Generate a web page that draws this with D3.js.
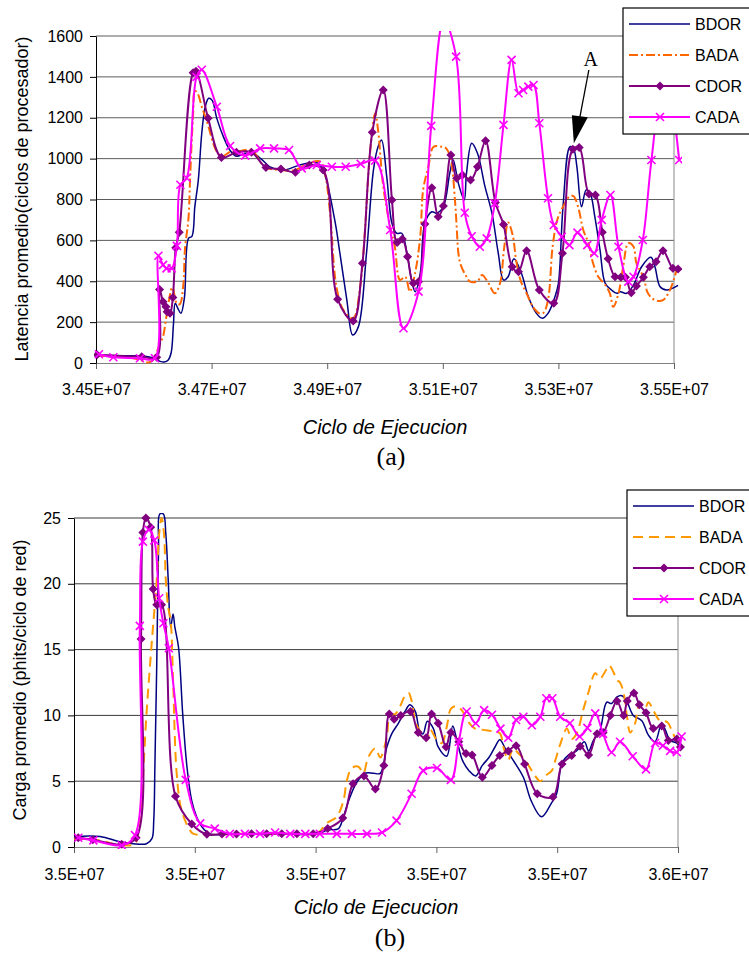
<!DOCTYPE html>
<html>
<head>
<meta charset="utf-8">
<script src="https://cdn.jsdelivr.net/npm/d3@7"></script>
<style>
  body { margin: 0; background: #fff; }
  svg text { font-family: "Liberation Sans", Arial, sans-serif; }
</style>
</head>
<body>
<svg id="fig" width="749" height="953"></svg>
<script>
// Execution cycle in thousands of cycles, paired with the measured value.

// (a) Average latency (processor cycles)
const latBDOR = [[34500,38],[34550,36],[34585,33],[34602,22],[34611,8],[34618,5],[34625,15],[34630,50],[34634,190],[34637,292],[34642,265],[34647,243],[34653,320],[34660,610],[34666,620],[34671,765],[34677,895],[34683,1124],[34689,1254],[34695,1295],[34701,1285],[34709,1197],[34720,1110],[34732,1040],[34743,1012],[34758,1026],[34772,1026],[34787,995],[34801,960],[34824,944],[34853,969],[34882,980],[34893,944],[34913,700],[34922,537],[34934,308],[34944,137],[34954,178],[34968,537],[34980,944],[34988,1058],[34994,1091],[35003,912],[35012,684],[35020,635],[35029,635],[35038,537],[35046,406],[35052,349],[35061,439],[35069,684],[35081,740],[35089,733],[35101,765],[35112,928],[35118,993],[35127,879],[35137,798],[35141,928],[35150,1075],[35160,1026],[35173,863],[35185,733],[35196,537],[35205,406],[35213,422],[35223,510],[35236,439],[35248,324],[35262,243],[35272,219],[35282,243],[35294,324],[35300,390],[35308,765],[35320,1058],[35326,1050],[35332,960],[35340,765],[35348,847],[35355,830],[35363,716],[35372,553],[35381,390],[35392,357],[35401,341],[35407,349],[35418,341],[35430,382],[35444,471],[35460,517],[35467,471],[35476,373],[35487,357],[35507,380]];
const latBADA = [[34500,35],[34550,30],[34576,15],[34587,3],[34597,10],[34606,60],[34611,96],[34616,129],[34622,230],[34632,370],[34640,290],[34645,288],[34651,380],[34654,560],[34660,708],[34663,920],[34668,1215],[34671,1332],[34676,1318],[34683,1254],[34693,1172],[34707,1045],[34717,1010],[34734,1036],[34749,1037],[34769,1042],[34792,960],[34818,944],[34844,944],[34870,980],[34888,985],[34896,928],[34905,733],[34916,373],[34928,259],[34945,219],[34957,373],[34965,635],[34974,1026],[34983,1222],[34988,1140],[34997,863],[35009,667],[35017,569],[35026,406],[35035,422],[35043,349],[35052,439],[35061,618],[35066,847],[35075,960],[35084,1058],[35098,1058],[35106,1050],[35114,993],[35121,798],[35124,667],[35127,537],[35131,480],[35141,422],[35147,398],[35160,400],[35168,431],[35178,395],[35190,341],[35199,390],[35206,560],[35213,688],[35221,625],[35227,500],[35235,400],[35245,341],[35256,275],[35267,243],[35274,245],[35282,308],[35290,569],[35298,700],[35308,765],[35319,814],[35326,817],[35334,765],[35343,651],[35352,586],[35360,488],[35369,422],[35381,382],[35389,341],[35395,275],[35404,341],[35412,471],[35421,586],[35430,569],[35435,488],[35447,422],[35455,341],[35467,308],[35481,308],[35493,357],[35507,480]];
const latCDOR = [[34502,40],[34579,30],[34605,28],[34610,360],[34616,300],[34621,275],[34623,251],[34628,243],[34633,321],[34638,564],[34644,640],[34668,1420],[34673,1428],[34694,1197],[34717,1006],[34743,1031],[34769,1031],[34794,957],[34820,949],[34845,933],[34869,969],[34893,944],[34918,312],[34945,205],[34961,488],[34978,1129],[34997,1336],[35012,798],[35021,589],[35030,607],[35039,520],[35049,390],[35058,398],[35069,680],[35081,858],[35092,716],[35101,768],[35114,1018],[35124,904],[35134,920],[35148,895],[35160,960],[35174,1088],[35191,785],[35205,678],[35220,471],[35231,447],[35245,549],[35267,357],[35292,292],[35307,537],[35325,1046],[35336,1055],[35353,827],[35364,822],[35376,640],[35386,510],[35398,422],[35408,419],[35416,419],[35426,344],[35435,377],[35447,419],[35458,471],[35469,496],[35481,549],[35498,463],[35507,460]];
const latCADA = [[34505,43],[34530,28],[34576,23],[34602,23],[34608,525],[34616,480],[34622,463],[34631,463],[34640,573],[34646,872],[34657,905],[34674,1400],[34683,1435],[34709,1254],[34732,1062],[34758,1015],[34784,1050],[34808,1050],[34834,1042],[34856,952],[34882,969],[34908,960],[34932,960],[34958,974],[34983,990],[35009,651],[35032,170],[35058,349],[35080,1160],[35102,1680],[35123,1499],[35138,735],[35150,620],[35164,569],[35176,610],[35190,781],[35205,1165],[35219,1483],[35231,1320],[35239,1336],[35248,1352],[35257,1360],[35267,1173],[35282,806],[35292,675],[35306,618],[35319,577],[35333,638],[35350,577],[35362,537],[35375,700],[35390,822],[35404,569],[35421,398],[35430,422],[35446,602],[35461,993],[35484,1450],[35509,993]];

// (b) Average load (phits per network cycle)
const loadBDOR = [[34500,0.8],[34543,0.8],[34576,0.4],[34598,0.25],[34620,0.25],[34629,0.63],[34632,2],[34634,6.3],[34637,13.9],[34640,22.8],[34642,25.3],[34648,25.3],[34652,23.8],[34656,20.3],[34660,16.7],[34664,17.7],[34667,16.7],[34673,15.2],[34680,10.1],[34687,6.1],[34695,3.5],[34703,2.3],[34714,1.4],[34725,1.0],[34775,1.0],[34841,1.0],[34902,1.0],[34921,1.3],[34938,1.4],[34946,2.3],[34957,3.8],[34968,4.9],[34982,5.6],[34996,5.6],[35007,5.6],[35018,7.6],[35026,8.6],[35037,9.4],[35048,10.3],[35056,10.8],[35065,10.3],[35073,8.7],[35078,8.6],[35085,9.55],[35095,9.0],[35103,7.6],[35117,6.9],[35127,9.2],[35134,8.1],[35143,6.6],[35154,5.8],[35165,5.4],[35176,6.2],[35187,6.8],[35197,7.6],[35205,8.15],[35214,7.5],[35227,6.6],[35244,5.3],[35257,3.5],[35274,2.3],[35290,3.3],[35299,4.05],[35308,6.4],[35319,7.0],[35332,7.3],[35345,8.0],[35352,7.3],[35360,8.1],[35371,8.9],[35382,11.0],[35390,10.9],[35399,11.4],[35407,11.5],[35415,11.1],[35426,10],[35440,9.6],[35451,8.5],[35462,8.0],[35473,9.4],[35479,8.9],[35487,8.1],[35498,7.9],[35506,7.5]];
const loadBADA = [[34500,0.63],[34543,0.5],[34576,0.13],[34601,0.25],[34606,1.0],[34612,3.8],[34620,10.1],[34629,15.7],[34637,20.3],[34641,23.8],[34645,25],[34649,23.8],[34652,20.3],[34656,18.2],[34660,17.2],[34664,12.7],[34670,5.6],[34678,2.8],[34692,1.27],[34698,1.0],[34775,1.0],[34858,1.0],[34904,1.1],[34918,1.8],[34935,2.3],[34946,3.5],[34952,5.1],[34960,6.0],[34971,6.1],[34979,5.6],[34987,6.8],[34999,7.5],[35007,6.8],[35018,8.4],[35023,10],[35032,10.1],[35040,10.7],[35048,11.5],[35054,11.7],[35059,11.1],[35066,9.4],[35076,8.6],[35084,8.1],[35090,8.9],[35101,8.1],[35109,7.9],[35117,9.1],[35124,10.5],[35133,10.7],[35142,10.4],[35153,9.5],[35164,9.0],[35178,8.9],[35192,8.8],[35205,8.65],[35211,7.6],[35219,6.6],[35227,7.5],[35236,7.1],[35247,6.6],[35258,5.8],[35272,5.0],[35280,5.4],[35291,5.8],[35297,6.6],[35305,7.8],[35316,9.0],[35324,8.2],[35332,8.6],[35343,10.4],[35352,11.8],[35363,13.2],[35371,12.8],[35379,13.3],[35386,13.8],[35393,13.3],[35399,12.7],[35404,12.5],[35410,11.7],[35415,10.1],[35421,8.7],[35429,9.4],[35437,11.0],[35446,10.6],[35451,11.0],[35459,10.4],[35470,9.6],[35482,9.5],[35492,8.6],[35501,7.9],[35506,8.4]];
const loadCDOR = [[34507,0.7],[34531,0.56],[34579,0.2],[34603,0.7],[34611,15.8],[34614,23.9],[34619,25.0],[34627,24.3],[34631,19.6],[34637,18.4],[34645,18.4],[34668,3.85],[34695,1.75],[34720,0.96],[34745,0.98],[34769,0.98],[34794,1.0],[34819,1.0],[34844,1.0],[34869,1.0],[34896,1.0],[34920,1.4],[34945,2.2],[34962,4.8],[34980,5.4],[34999,4.4],[35013,6.2],[35022,10.1],[35030,9.7],[35041,10.0],[35057,10.3],[35070,8.7],[35083,8.3],[35092,10.1],[35103,9.4],[35116,7.6],[35124,8.7],[35137,8.0],[35149,7.1],[35159,7.0],[35176,5.3],[35192,6.2],[35205,6.95],[35219,7.3],[35232,7.7],[35246,6.3],[35267,4.05],[35293,3.8],[35308,6.3],[35324,6.95],[35338,7.65],[35352,7.0],[35366,8.6],[35376,8.7],[35388,10],[35399,11.1],[35410,10],[35416,11.1],[35427,11.7],[35436,10.8],[35447,10.2],[35459,9.0],[35473,9.2],[35484,8.1],[35498,8.2],[35504,7.6]];
const loadCADA = [[34507,0.7],[34532,0.5],[34579,0.13],[34601,0.9],[34609,16.8],[34614,23.2],[34624,24.1],[34633,23.3],[34641,18.9],[34648,17.0],[34657,15.1],[34685,5.1],[34709,1.8],[34733,1.4],[34758,1.0],[34783,1.0],[34808,1.0],[34833,1.1],[34858,1.0],[34883,1.0],[34907,1.0],[34935,1.0],[34960,1.0],[34985,1.0],[35010,1.1],[35034,2.0],[35059,4.05],[35078,5.8],[35101,6.0],[35124,5.1],[35137,8.0],[35150,10.3],[35165,9.4],[35179,10.4],[35192,10.05],[35206,9.0],[35219,8.3],[35232,9.65],[35244,9.9],[35258,9.25],[35272,9.9],[35282,11.3],[35292,11.3],[35305,9.9],[35321,9.4],[35337,8.4],[35350,9.05],[35363,10.15],[35376,8.6],[35390,7.2],[35404,8.0],[35425,6.9],[35447,5.9],[35462,7.9],[35475,7.7],[35487,7.3],[35498,7.2],[35506,8.4]];

// Axis ticks and labels
const xTickCycles = [34500000, 34700000, 34900000, 35100000, 35300000, 35500000];
const xLabelsA = ["3.45E+07", "3.47E+07", "3.49E+07", "3.51E+07", "3.53E+07", "3.55E+07"];
const xLabelsB = ["3.5E+07", "3.5E+07", "3.5E+07", "3.5E+07", "3.5E+07", "3.6E+07"];
const yTicksA = [0, 200, 400, 600, 800, 1000, 1200, 1400, 1600];
const yTicksB = [0, 5, 10, 15, 20, 25];
const seriesNames = ["BDOR", "BADA", "CDOR", "CADA"];

const svg = d3.select("#fig");
const NAVY = "#000080", PURPLE = "#800080", MAGENTA = "#ff00ff";

function drawMarker(sel, kind, color) {
  if (kind === "diamond") {
    sel.append("path").attr("d", "M0,-4.5L4.5,0L0,4.5L-4.5,0Z").attr("fill", color);
  } else if (kind === "cross") {
    sel.append("path").attr("d", "M-4,-4L4,4M-4,4L4,-4")
      .attr("stroke", color).attr("stroke-width", 1.6).attr("fill", "none");
  }
}

function panel(o, idx) {
  const g = svg.append("g");
  const x = d3.scaleLinear().domain([xTickCycles[0], xTickCycles[xTickCycles.length - 1]]).range([o.left, o.right]);
  const y = d3.scaleLinear().domain([0, o.yTicks[o.yTicks.length - 1]]).range([o.bottom, o.top]);

  // horizontal gridlines
  g.append("g").selectAll("line").data(o.yTicks.filter(v => v > 0)).join("line")
    .attr("x1", o.left).attr("x2", o.right)
    .attr("y1", d => y(d)).attr("y2", d => y(d))
    .attr("stroke", o.grid).attr("stroke-width", 1);

  // right border of the plot area
  g.append("line").attr("x1", o.right).attr("x2", o.right).attr("y1", o.top).attr("y2", o.bottom)
    .attr("stroke", "#8a8a8a").attr("stroke-width", 1);

  // axes
  const xAxis = g.append("g").attr("transform", `translate(0,${o.bottom})`)
    .call(d3.axisBottom(x).tickValues(xTickCycles).tickSize(6).tickSizeOuter(0)
      .tickPadding(0).tickFormat((d, i) => o.xLabels[i]));
  xAxis.select(".domain").attr("stroke", "#808080");
  xAxis.selectAll(".tick line").attr("stroke", "#606060");
  xAxis.selectAll(".tick text").attr("y", o.xLabelDy).attr("dy", 0)
    .style("font-size", "16px").attr("fill", "#000");

  const yAxis = g.append("g").attr("transform", `translate(${o.left},0)`)
    .call(d3.axisLeft(y).tickValues(o.yTicks).tickSize(6).tickSizeOuter(0).tickPadding(7)
      .tickFormat(d3.format("d")));
  yAxis.select(".domain").attr("stroke", "#000");
  yAxis.selectAll(".tick line").attr("stroke", "#000");
  yAxis.selectAll(".tick text").style("font-size", "16px").attr("fill", "#000");
  g.selectAll(".tick text").attr("font-family", null);

  // series
  const clipId = "clip" + idx;
  svg.append("defs").append("clipPath").attr("id", clipId).append("rect")
    .attr("x", o.left - 2).attr("y", o.top - 5).attr("width", o.right - o.left + 10).attr("height", o.bottom - o.top + 7);
  const line = d3.line().x(d => x(d[0] * 1000)).y(d => y(d[1])).curve(d3.curveCatmullRom.alpha(0.5));
  const plot = g.append("g").attr("clip-path", `url(#${clipId})`);
  o.series.forEach(s => {
    plot.append("path").datum(s.data).attr("d", line)
      .attr("fill", "none").attr("stroke", s.color).attr("stroke-width", s.width)
      .attr("stroke-dasharray", s.dash || null).attr("stroke-linejoin", "round");
    if (s.marker) {
      plot.append("g").selectAll("g").data(s.data).join("g")
        .attr("transform", d => `translate(${x(d[0] * 1000)},${y(d[1])})`)
        .each(function () { drawMarker(d3.select(this), s.marker, s.color); });
    }
  });

  // axis titles and caption
  const cx = (o.left + o.right) / 2;
  g.append("text").attr("transform", `translate(${o.yTitleX},${o.yTitleY}) rotate(-90)`)
    .attr("text-anchor", "middle").style("font-size", "18px").text(o.yTitle);
  g.append("text").attr("x", cx).attr("y", o.xTitleY).attr("text-anchor", "middle")
    .style("font-size", "20px").style("font-style", "italic").text("Ciclo de Ejecucion");
  g.append("text").attr("x", o.captionX).attr("y", o.captionY).attr("text-anchor", "middle")
    .style("font-family", '"Liberation Serif", "Times New Roman", serif').style("font-size", "26px")
    .text(o.caption);

  // legend
  const lg = g.append("g").attr("transform", `translate(${o.legendX},${o.legendY})`);
  lg.append("rect").attr("x", 0).attr("y", 0).attr("width", 135).attr("height", 126)
    .attr("fill", "#fff").attr("stroke", "#000").attr("stroke-width", 1.2);
  o.series.forEach((s, i) => {
    const ly = 16 + i * 31;
    lg.append("line").attr("x1", 6).attr("x2", 67).attr("y1", ly).attr("y2", ly)
      .attr("stroke", s.color).attr("stroke-width", s.width).attr("stroke-dasharray", s.dash || null);
    if (s.marker) drawMarker(lg.append("g").attr("transform", `translate(37,${ly})`), s.marker, s.color);
    lg.append("text").attr("x", 72).attr("y", ly + 6).style("font-size", "16px").text(seriesNames[i]);
  });

  return { g, x, y };
}

const A = panel({
  left: 96, right: 674, top: 36, bottom: 363,
  yTicks: yTicksA, xLabels: xLabelsA, xLabelDy: 32, grid: "#5c5c5c",
  yTitle: "Latencia promedio(ciclos de procesador)", yTitleX: 28, yTitleY: 199,
  xTitleY: 434, caption: "(a)", captionX: 391, captionY: 465,
  legendX: 623, legendY: 8,
  series: [
    { data: latBDOR, color: NAVY, width: 1.5 },
    { data: latBADA, color: "#ff6600", width: 2, dash: "9,3,2,3" },
    { data: latCDOR, color: PURPLE, width: 2, marker: "diamond" },
    { data: latCADA, color: MAGENTA, width: 2, marker: "cross" }
  ]
}, 0);

// label "A" with an arrow pointing at the CDOR peak
const peak = latCDOR.find(d => d[0] === 35325);
const tipX = A.x(peak[0] * 1000) + 1, tipY = A.y(peak[1]) - 6;
A.g.append("line").attr("x1", tipX + 15).attr("y1", 70).attr("x2", tipX + 6).attr("y2", tipY - 26)
  .attr("stroke", "#000").attr("stroke-width", 1.3);
A.g.append("path")
  .attr("d", `M${tipX},${tipY}L${tipX - 2},${tipY - 28}L${tipX + 14},${tipY - 26}Z`).attr("fill", "#000");
A.g.append("text").attr("x", tipX + 17).attr("y", 66).attr("text-anchor", "middle")
  .style("font-family", '"Liberation Serif", "Times New Roman", serif').style("font-size", "20px").text("A");

panel({
  left: 74, right: 678, top: 518, bottom: 847,
  yTicks: yTicksB, xLabels: xLabelsB, xLabelDy: 33, grid: "#3a3a3a",
  yTitle: "Carga promedio (phits/ciclo de red)", yTitleX: 26, yTitleY: 680,
  xTitleY: 914, caption: "(b)", captionX: 390, captionY: 946,
  legendX: 627, legendY: 490,
  series: [
    { data: loadBDOR, color: NAVY, width: 1.5 },
    { data: loadBADA, color: "#ff9900", width: 2, dash: "10,6" },
    { data: loadCDOR, color: PURPLE, width: 2, marker: "diamond" },
    { data: loadCADA, color: MAGENTA, width: 2, marker: "cross" }
  ]
}, 1);
</script>
</body>
</html>
